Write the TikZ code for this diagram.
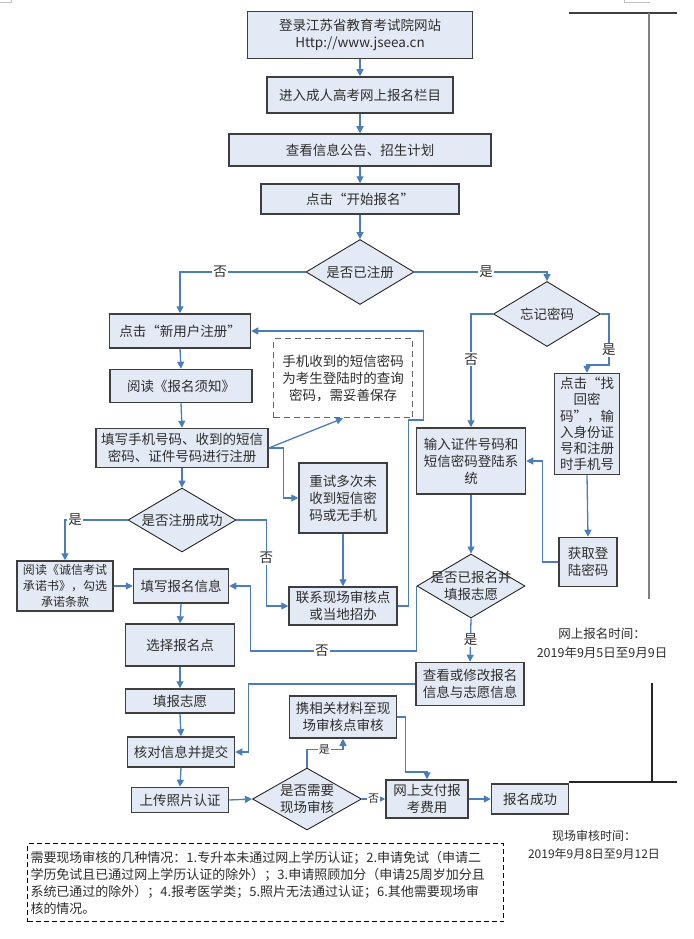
\documentclass[tikz,border=0pt]{standalone}
\usepackage{fontspec}
\setmainfont{Noto Sans CJK SC}
\usetikzlibrary{arrows.meta,shapes.geometric}
\definecolor{pale}{RGB}{228,234,245}
\definecolor{link}{RGB}{74,126,187}
\definecolor{edge}{RGB}{62,62,62}
\definecolor{ink}{RGB}{45,45,45}
\tikzset{
  >={Triangle[length=7pt,width=7pt]},
  box/.style={draw=edge,fill=pale,line width=1.5pt,align=center,inner sep=2pt,
    text=ink,font=\fontsize{13.5}{17}\selectfont},
  decision/.style={diamond,aspect=1.7,draw=black!85,fill=pale,line width=0.9pt,
    inner sep=-10pt,align=center,text=ink,font=\fontsize{13.5}{17}\selectfont},
  tipbox/.style={draw=edge!80,dashed,dash pattern=on 6pt off 4pt,line width=1.5pt,
    align=center,text=ink,font=\fontsize{13.5}{17}\selectfont},
  memo/.style={draw=black,dash pattern=on 5pt off 3pt,line width=1pt,align=left,
    inner sep=3pt,text=ink,font=\fontsize{13}{17}\selectfont},
  stamp/.style={align=center,text=ink,font=\fontsize{12.5}{19}\selectfont},
  flow/.style={->,draw=link,line width=1.3pt},
  lbl/.style={fill=white,inner sep=1pt,text=ink,font=\fontsize{13.5}{15}\selectfont},
  lbl/.default=13.5,
  small lbl/.style={lbl,font=\fontsize{11}{13}\selectfont},
}

\begin{document}
\begin{tikzpicture}[x=1pt,y=-1pt]
  \fill[white] (0,0) rectangle (693,939);
  \useasboundingbox (0,0) rectangle (693,939);
  % crop marks
  \draw[gray!50,line width=0.8pt] (0,2) -- (11,2) -- (11,0);
  \draw[gray!50,line width=0.8pt] (624,0) -- (624,2) -- (650,2);

  % main column
  \node[box,minimum width=225pt,minimum height=47pt] (web) at (360,35) {登录江苏省教育考试院网站\\Http://www.jseea.cn};
  \node[box,minimum width=186pt,minimum height=36pt] (entry) at (360,95) {进入成人高考网上报名栏目};
  \node[box,minimum width=262pt,minimum height=32pt] (info) at (360,150) {查看信息公告、招生计划};
  \node[box,minimum width=198pt,minimum height=30pt] (start) at (360,199) {点击“开始报名”};
  \node[decision,minimum width=108pt,minimum height=65pt] (isreg) at (360,272) {是否已注册};

  % new user branch
  \node[box,minimum width=141pt,minimum height=34pt] (newu) at (180,331) {点击“新用户注册”};
  \node[box,minimum width=142pt,minimum height=33pt] (readn) at (181,386) {阅读《报名须知》};
  \node[box,minimum width=172pt,minimum height=39pt] (fillp) at (182,448) {填写手机号码、收到的短信\\密码、证件号码进行注册};
  \node[tipbox,minimum width=139pt,minimum height=79pt] (tip) at (343,378) {手机收到的短信密码\\为考生登陆时的查询\\密码，需妥善保存};
  \node[box,minimum width=88pt,minimum height=70pt] (retry) at (343,498) {重试多次未\\收到短信密\\码或无手机};
  \node[box,minimum width=108pt,minimum height=38pt] (contact) at (343,606) {联系现场审核点\\或当地招办};
  \node[decision,minimum width=108pt,minimum height=64pt] (regok) at (182,520) {是否注册成功};
  \node[box,minimum width=96pt,minimum height=50pt,font=\fontsize{12}{16}\selectfont] (pledge) at (65,586) {阅读《诚信考试\\承诺书》，勾选\\承诺条款};
  \node[box,minimum width=95pt,minimum height=34pt] (fillinfo) at (181,586) {填写报名信息};
  \node[box,minimum width=109pt,minimum height=42pt] (choose) at (180,645) {选择报名点};
  \node[box,minimum width=109pt,minimum height=24pt] (wish) at (180,701) {填报志愿};
  \node[box,minimum width=107pt,minimum height=30pt] (check) at (181,752) {核对信息并提交};
  \node[box,minimum width=97pt,minimum height=25pt] (photo) at (180,800) {上传照片认证};
  \node[decision,minimum width=109pt,minimum height=62pt] (needaud) at (307,799) {是否需要\\现场审核};
  \node[box,minimum width=107pt,minimum height=42pt] (carry) at (343,717) {携相关材料至现\\场审核点审核};
  \node[box,minimum width=82pt,minimum height=38pt] (pay) at (427,799) {网上支付报\\考费用};
  \node[box,minimum width=77pt,minimum height=30pt] (success) at (530,799) {报名成功};

  % registered branch
  \node[decision,minimum width=107pt,minimum height=65pt] (forgot) at (547,314) {忘记密码};
  \node[box,minimum width=109pt,minimum height=66pt] (login) at (471,461) {输入证件号码和\\短信密码登陆系\\统};
  \node[box,minimum width=65pt,minimum height=101pt,font=\fontsize{13.5}{16.2}\selectfont] (findpw) at (587,424) {点击“找\\回密\\码”，输\\入身份证\\号和注册\\时手机号};
  \node[box,minimum width=58pt,minimum height=49pt] (getpw) at (588,562) {获取登\\陆密码};
  \node[decision,minimum width=108pt,minimum height=64pt] (done) at (471,586) {是否已报名并\\填报志愿};
  \node[box,minimum width=108pt,minimum height=43pt] (modify) at (470,684) {查看或修改报名\\信息与志愿信息};

  % straight arrows
  \foreach \a/\b in {web/entry,entry/info,info/start,start/isreg,newu/readn,readn/fillp,
    fillp/regok,retry/contact,findpw/getpw,login/done,fillinfo/choose,choose/wish,
    wish/check,check/photo}
    \draw[flow] (\a.south) -- (\b.north);
  \draw[flow] (pledge.east) -- (fillinfo.west);
  \draw[flow] (photo.east) -- (needaud.west);
  \draw[flow] (pay.east) -- (success.west);
  \draw[flow] (fillp.east) -- (tip.south);

  % branching arrows
  \draw[flow] (isreg.west) -| (newu.north) node[lbl,pos=0.34]{否};
  \draw[flow] (isreg.east) -| (forgot.north) node[lbl,pos=0.27]{是};
  \draw[flow] (forgot.west) -| (login.north) node[lbl,pos=0.7]{否};
  \draw[flow] (forgot.east) -- ++(8,0) -- ++(0,51) node[lbl,pos=0.7]{是} -| (findpw.north);
  \draw[flow] (getpw.west) -- ++(-16,0) |- (login.east);
  \draw[flow] (done.south) -- (modify.north) node[lbl,midway]{是};
  \draw[flow] (done.west) -- ++(0,65) -- ++(-166,0) node[lbl,pos=0.57]{否} |- (fillinfo.east);
  \draw[flow] (fillp.east) -- ++(15,0) |- (retry.west);
  \draw[flow] (contact.east) -- ++(11,0) -- ++(0,-186) -- ++(15,0) |- (newu.east);
  \draw[flow] (regok.west) -| (pledge.north) node[lbl,pos=0.42]{是};
  \draw[flow] (regok.east) -- ++(30,0) |- (contact.west) node[lbl,pos=0.22]{否};
  \draw[flow] (modify.west) -- ++(-167,0) |- (check.east);
  \draw[flow] (needaud.north) -- ++(0,-18) -| (carry.south) node[small lbl,pos=0.24]{是};
  \draw[flow] (needaud.east) -- (pay.west) node[small lbl,midway]{否};
  \draw[flow] (carry.east) -- ++(8,0) -- ++(0,55) -| (pay.north);

  % time lines
  \draw[edge,line width=2pt] (569,13) -- (677,13);
  \draw[gray,line width=2.5pt] (649,13) -- (649,599);
  \node[stamp] (online) at (602,643) {网上报名时间：\\2019年9月5日至9月9日};
  \draw[black!85,line width=1.5pt] (652,683) -- (652,782);
  \draw[black!85,line width=1.5pt] (569,782) -- (677,782);
  \node[stamp,font=\fontsize{12}{18}\selectfont] (onsite) at (594,845) {现场审核时间：\\2019年9月8日至9月12日};

  % note
  \node[memo,anchor=north west,text width=470pt,minimum height=78pt] (cases) at (27,843) {需要现场审核的几种情况：1.专升本未通过网上学历认证；2.申请免试（申请二\\学历免试且已通过网上学历认证的除外）；3.申请照顾加分（申请25周岁加分且\\系统已通过的除外）；4.报考医学类；5.照片无法通过认证；6.其他需要现场审\\核的情况。};
\end{tikzpicture}
\end{document}
